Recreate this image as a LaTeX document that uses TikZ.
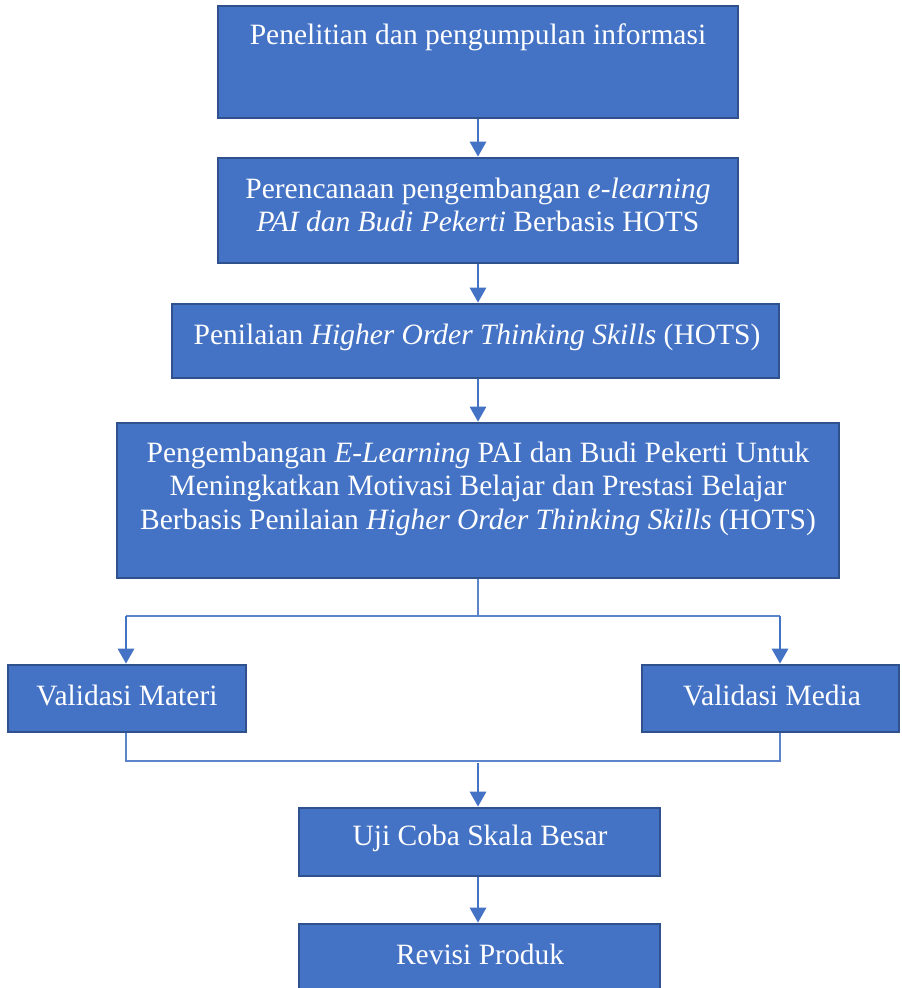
\documentclass[tikz,border=0pt]{standalone}
\usepackage{fontspec}
\setmainfont{Liberation Serif}
\usetikzlibrary{arrows.meta}
\definecolor{boxfill}{HTML}{4472C4}
\definecolor{boxline}{HTML}{2F528F}
\definecolor{flow}{HTML}{4472C4}
\definecolor{thinflow}{HTML}{5B84CC}
\tikzset{
  stepbox/.style={rectangle, draw=boxline, line width=2.6pt, fill=boxfill, inner sep=0pt},
  boxtext/.style={text=white, align=center, inner sep=0pt,
    font=\fontsize{29.5}{33.5}\selectfont},
  flowarrow/.style={draw=flow, line width=2.8pt, -{Triangle[width=16pt,length=15pt]}},
  thinline/.style={draw=thinflow, line width=1.3pt},
}
\begin{document}
\begin{tikzpicture}[x=1pt, y=-1pt]
  \useasboundingbox (0,0) rectangle (902,988);
  \clip (0,0) rectangle (902,988);
  % process boxes (geometry)
  \node[stepbox, minimum width=520pt, minimum height=112pt] (b1) at (478,62) {};
  \node[stepbox, minimum width=520pt, minimum height=105pt] (b2) at (478,210.5) {};
  \node[stepbox, minimum width=607pt, minimum height=74pt] (b3) at (475.5,341) {};
  \node[stepbox, minimum width=722pt, minimum height=155pt] (b4) at (478,500.5) {};
  \node[stepbox, minimum width=238pt, minimum height=67pt] (b5) at (127,698.5) {};
  \node[stepbox, minimum width=257pt, minimum height=67pt] (b6) at (770.5,698.5) {};
  \node[stepbox, minimum width=361pt, minimum height=68pt] (b7) at (479.5,842) {};
  \node[stepbox, minimum width=361pt, minimum height=100pt] (b8) at (479.5,974) {};
  % box labels
  \node[boxtext] (t1) at (478,37.5) {Penelitian dan pengumpulan informasi};
  \node[boxtext] (t2) at (478,205) {Perencanaan pengembangan \textit{e-learning}\\
    \textit{PAI dan Budi Pekerti} Berbasis HOTS};
  \node[boxtext] (t3) at (477,337) {Penilaian \textit{Higher Order Thinking Skills} (HOTS)};
  \node[boxtext] (t4) at (478,488.5) {Pengembangan \textit{E-Learning} PAI dan Budi Pekerti Untuk\\
    Meningkatkan Motivasi Belajar dan Prestasi Belajar\\
    Berbasis Penilaian \textit{Higher Order Thinking Skills} (HOTS)};
  \node[boxtext] (t5) at (127,695) {Validasi Materi};
  \node[boxtext] (t6) at (772,695) {Validasi Media};
  \node[boxtext] (t7) at (480,838) {Uji Coba Skala Besar};
  \node[boxtext] (t8) at (480,954) {Revisi Produk};
  % junction points of the branch and merge
  \coordinate (split) at (478,616);
  \coordinate (splitL) at (126,616);
  \coordinate (splitR) at (780,616);
  \coordinate (mergeL) at (126,761);
  \coordinate (mergeR) at (780,761);
  \coordinate (merge) at (478,761);
  % straight flow
  \draw[flowarrow] (b1.south) -- (b2.north);
  \draw[flowarrow] (b2.south) -- (b3.north -| b2.south);
  \draw[flowarrow] (b3.south -| b2.south) -- (b4.north);
  % branch to the two validations
  \draw[thinline] (b4.south) -- (split);
  \draw[thinline] (splitL) -- (splitR);
  \draw[flowarrow] (splitL) -- (splitL |- b5.north);
  \draw[flowarrow] (splitR) -- (splitR |- b6.north);
  % merge back
  \draw[thinline] (mergeL |- b5.south) -- (mergeL) -- (mergeR) -- (mergeR |- b6.south);
  \draw[flowarrow] ([yshift=-2pt]merge) -- (merge |- b7.north);
  \draw[flowarrow] (merge |- b7.south) -- (merge |- b8.north);
\end{tikzpicture}
\end{document}
